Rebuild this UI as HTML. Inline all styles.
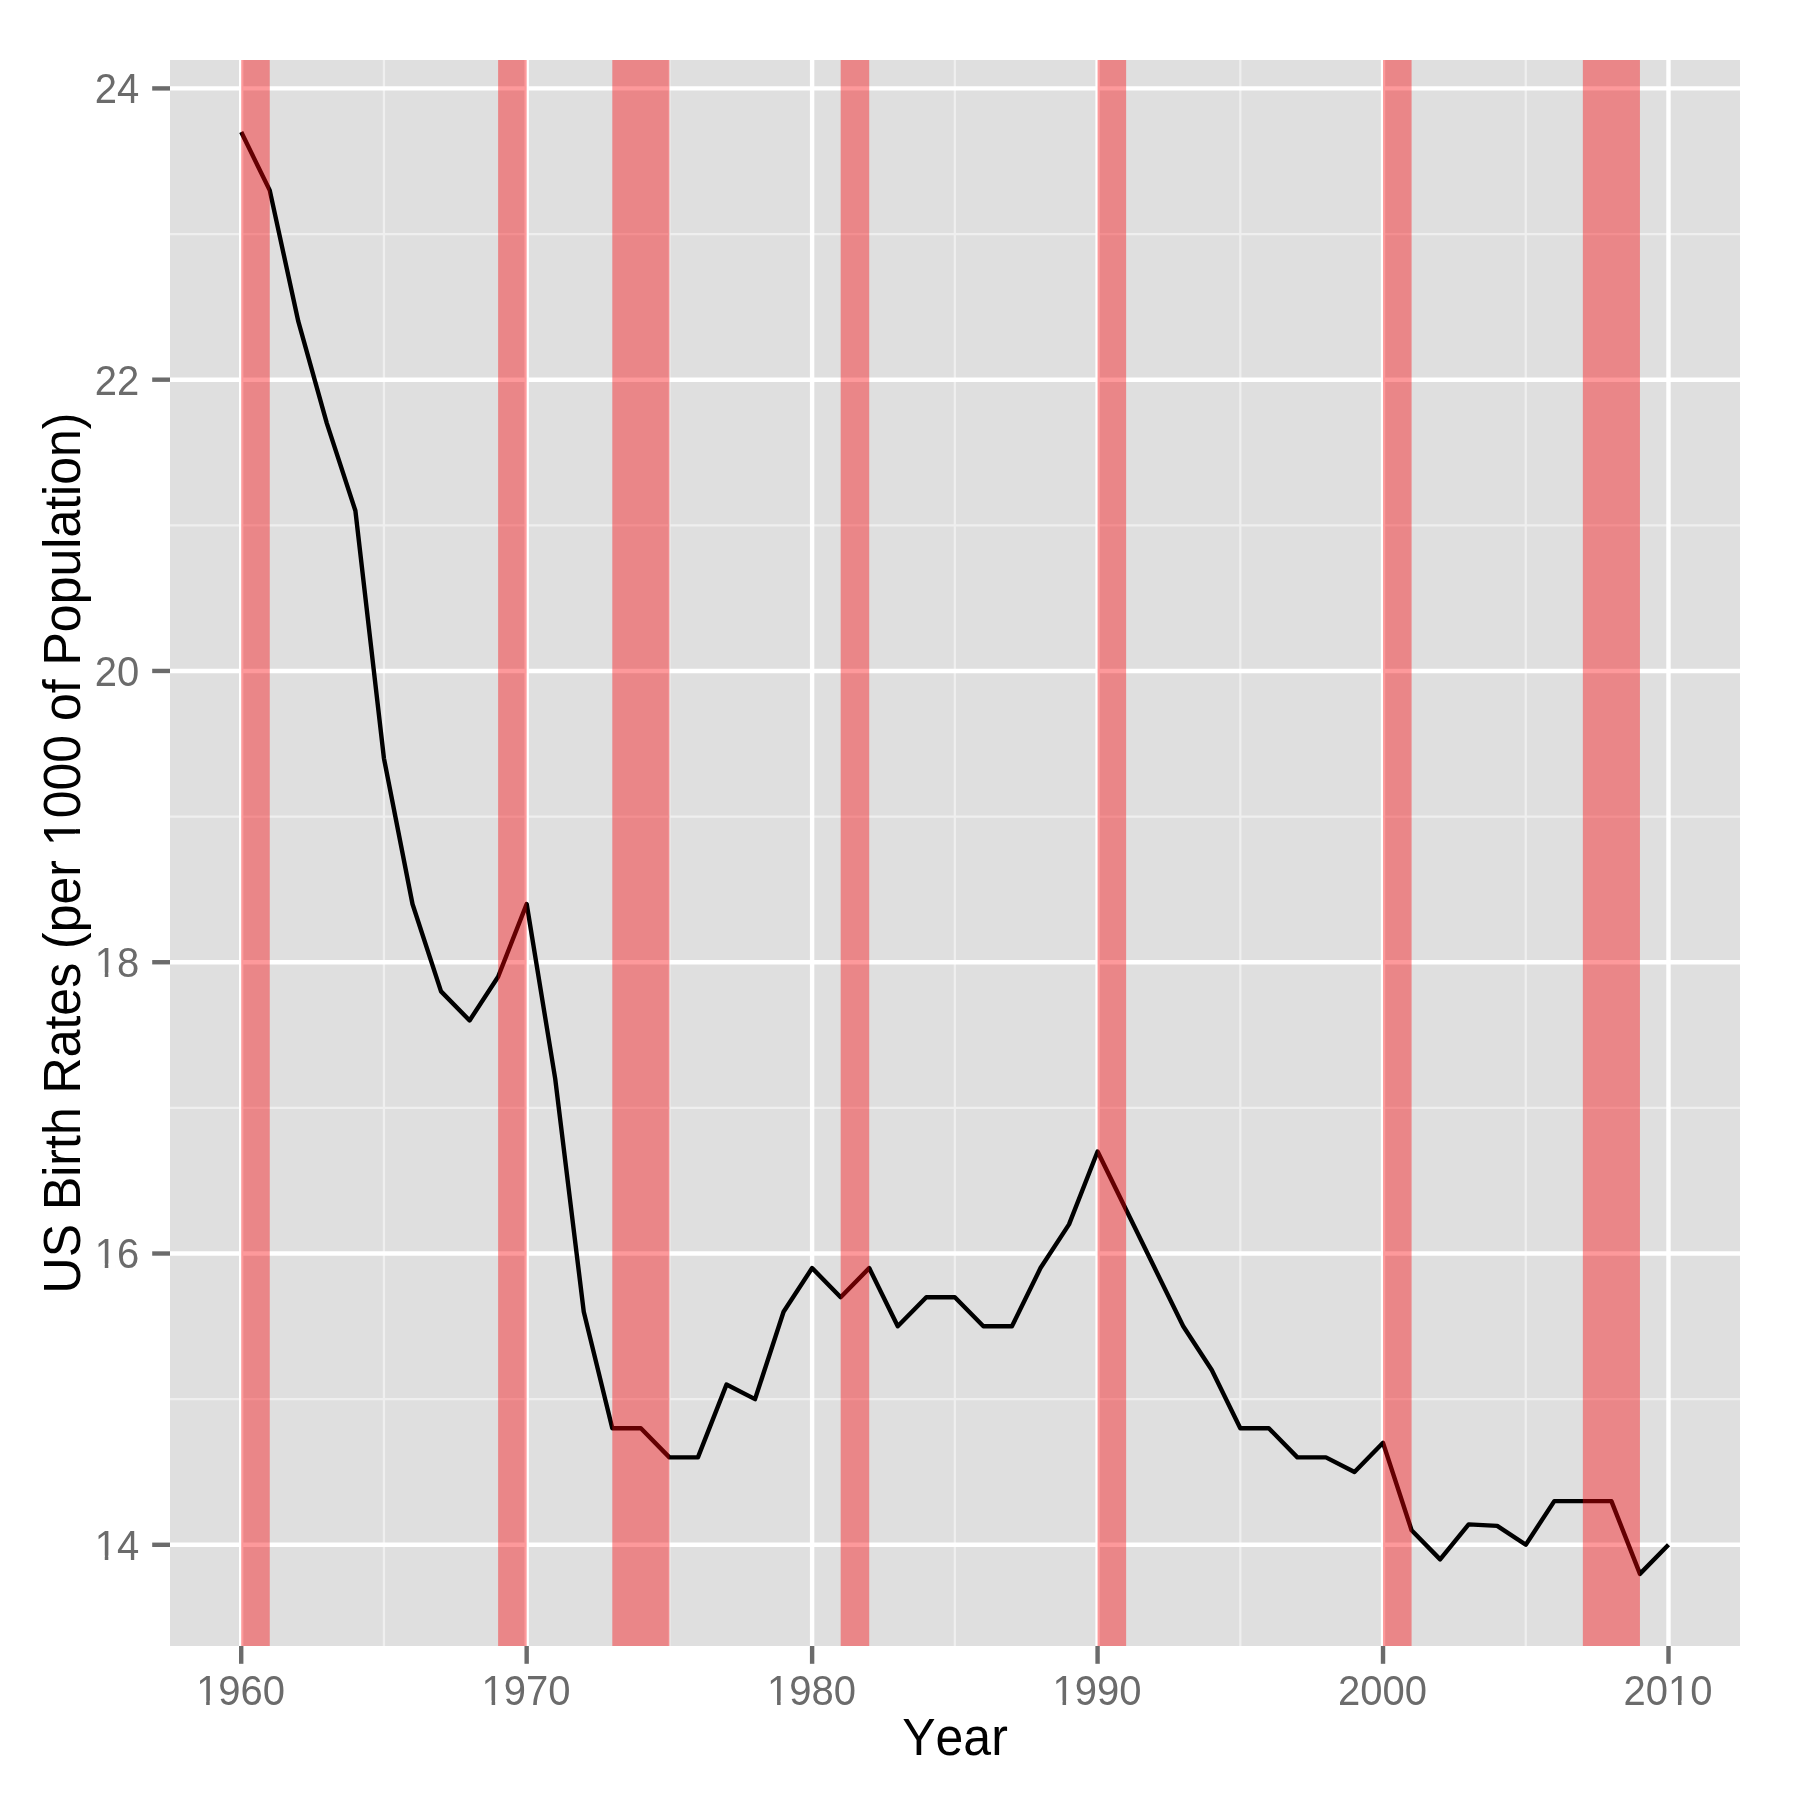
<!DOCTYPE html>
<html><head><meta charset="utf-8"><title>US Birth Rates</title>
<style>html,body{margin:0;padding:0;background:#fff;}body{width:1800px;height:1800px;overflow:hidden;}svg{display:block;}text{font-family:"Liberation Sans",sans-serif;font-kerning:none;font-variant-ligatures:none;}</style></head><body>
<svg width="1800" height="1800" viewBox="0 0 1800 1800">
<rect x="0" y="0" width="1800" height="1800" fill="#ffffff"/>
<rect x="170.0" y="60.0" width="1570.0" height="1586.0" fill="#dfdfdf"/>
<g stroke="#efefef" stroke-width="2.2">
<line x1="170.0" x2="1740.0" y1="1399.14" y2="1399.14"/>
<line x1="170.0" x2="1740.0" y1="1107.87" y2="1107.87"/>
<line x1="170.0" x2="1740.0" y1="816.59" y2="816.59"/>
<line x1="170.0" x2="1740.0" y1="525.31" y2="525.31"/>
<line x1="170.0" x2="1740.0" y1="234.04" y2="234.04"/>
<line y1="60.0" y2="1646.0" x1="383.94" x2="383.94"/>
<line y1="60.0" y2="1646.0" x1="669.40" x2="669.40"/>
<line y1="60.0" y2="1646.0" x1="954.85" x2="954.85"/>
<line y1="60.0" y2="1646.0" x1="1240.30" x2="1240.30"/>
<line y1="60.0" y2="1646.0" x1="1525.76" x2="1525.76"/>
</g>
<g stroke="#ffffff" stroke-width="4.4">
<line x1="170.0" x2="1740.0" y1="1544.78" y2="1544.78"/>
<line x1="170.0" x2="1740.0" y1="1253.51" y2="1253.51"/>
<line x1="170.0" x2="1740.0" y1="962.23" y2="962.23"/>
<line x1="170.0" x2="1740.0" y1="670.95" y2="670.95"/>
<line x1="170.0" x2="1740.0" y1="379.68" y2="379.68"/>
<line x1="170.0" x2="1740.0" y1="88.40" y2="88.40"/>
<line y1="60.0" y2="1646.0" x1="241.21" x2="241.21"/>
<line y1="60.0" y2="1646.0" x1="526.67" x2="526.67"/>
<line y1="60.0" y2="1646.0" x1="812.12" x2="812.12"/>
<line y1="60.0" y2="1646.0" x1="1097.58" x2="1097.58"/>
<line y1="60.0" y2="1646.0" x1="1383.03" x2="1383.03"/>
<line y1="60.0" y2="1646.0" x1="1668.49" x2="1668.49"/>
</g>
<polyline points="241.21,132.09 269.76,190.35 298.30,321.42 326.85,423.37 355.40,510.75 383.94,758.34 412.49,903.97 441.03,991.36 469.58,1020.48 498.12,976.79 526.67,903.97 555.21,1078.74 583.76,1311.76 612.30,1428.27 640.85,1428.27 669.40,1457.40 697.94,1457.40 726.49,1384.58 755.03,1399.14 783.58,1311.76 812.12,1268.07 840.67,1297.20 869.21,1268.07 897.76,1326.32 926.30,1297.20 954.85,1297.20 983.40,1326.32 1011.94,1326.32 1040.49,1268.07 1069.03,1224.38 1097.58,1151.56 1126.12,1209.81 1154.67,1268.07 1183.21,1326.32 1211.76,1370.02 1240.30,1428.27 1268.85,1428.27 1297.40,1457.40 1325.94,1457.40 1354.49,1471.96 1383.03,1442.83 1411.58,1530.22 1440.12,1559.35 1468.67,1524.39 1497.21,1525.85 1525.76,1544.78 1554.30,1501.09 1582.85,1501.09 1611.40,1501.09 1639.94,1573.91 1668.49,1544.78" fill="none" stroke="#000000" stroke-width="4.4" stroke-linejoin="round" stroke-linecap="butt"/>
<g fill="#fb0004" fill-opacity="0.4">
<rect x="241.21" y="60.0" width="28.55" height="1586.0"/>
<rect x="498.12" y="60.0" width="28.55" height="1586.0"/>
<rect x="612.30" y="60.0" width="57.09" height="1586.0"/>
<rect x="840.67" y="60.0" width="28.55" height="1586.0"/>
<rect x="1097.58" y="60.0" width="28.55" height="1586.0"/>
<rect x="1383.03" y="60.0" width="28.55" height="1586.0"/>
<rect x="1582.85" y="60.0" width="57.09" height="1586.0"/>
</g>
<g stroke="#6b6b6b" stroke-width="4.4">
<line x1="152.2" x2="170.0" y1="1544.78" y2="1544.78"/>
<line x1="152.2" x2="170.0" y1="1253.51" y2="1253.51"/>
<line x1="152.2" x2="170.0" y1="962.23" y2="962.23"/>
<line x1="152.2" x2="170.0" y1="670.95" y2="670.95"/>
<line x1="152.2" x2="170.0" y1="379.68" y2="379.68"/>
<line x1="152.2" x2="170.0" y1="88.40" y2="88.40"/>
<line y1="1646.0" y2="1663.8" x1="241.21" x2="241.21"/>
<line y1="1646.0" y2="1663.8" x1="526.67" x2="526.67"/>
<line y1="1646.0" y2="1663.8" x1="812.12" x2="812.12"/>
<line y1="1646.0" y2="1663.8" x1="1097.58" x2="1097.58"/>
<line y1="1646.0" y2="1663.8" x1="1383.03" x2="1383.03"/>
<line y1="1646.0" y2="1663.8" x1="1668.49" x2="1668.49"/>
</g>
<g opacity="0.999">
<g fill="#6b6b6b" font-size="40px">
<text transform="translate(139.2,1560.0) scale(1,1.04)" text-anchor="end">14</text>
<text transform="translate(139.2,1268.0) scale(1,1.04)" text-anchor="end">16</text>
<text transform="translate(139.2,977.0) scale(1,1.04)" text-anchor="end">18</text>
<text transform="translate(139.2,686.0) scale(1,1.04)" text-anchor="end">20</text>
<text transform="translate(139.2,395.0) scale(1,1.04)" text-anchor="end">22</text>
<text transform="translate(139.2,103.0) scale(1,1.04)" text-anchor="end">24</text>
<text transform="translate(240.61,1705.0) scale(1,1.04)" text-anchor="middle">1960</text>
<text transform="translate(526.07,1705.0) scale(1,1.04)" text-anchor="middle">1970</text>
<text transform="translate(811.52,1705.0) scale(1,1.04)" text-anchor="middle">1980</text>
<text transform="translate(1096.98,1705.0) scale(1,1.04)" text-anchor="middle">1990</text>
<text transform="translate(1382.43,1705.0) scale(1,1.04)" text-anchor="middle">2000</text>
<text transform="translate(1667.89,1705.0) scale(1,1.04)" text-anchor="middle">2010</text>
</g>
<g fill="#000000" font-size="50px">
<text transform="translate(955.0,1755.0) scale(1,1.04)" text-anchor="middle">Year</text>
<text transform="translate(80.0,853.0) rotate(-90) scale(1,1.04)" text-anchor="middle">US Birth Rates (per 1000 of Population)</text>
</g>
<g fill="#ffffff">
<g transform="translate(139.2,1560.0) scale(1,1.04)"><rect x="-42.25" y="-4.24" width="7.81" height="5.20"/><rect x="-30.90" y="-4.24" width="7.50" height="5.20"/></g>
<g transform="translate(139.2,1268.0) scale(1,1.04)"><rect x="-42.25" y="-4.24" width="7.81" height="5.20"/><rect x="-30.90" y="-4.24" width="7.50" height="5.20"/></g>
<g transform="translate(139.2,977.0) scale(1,1.04)"><rect x="-42.25" y="-4.24" width="7.81" height="5.20"/><rect x="-30.90" y="-4.24" width="7.50" height="5.20"/></g>
<g transform="translate(240.61,1705.0) scale(1,1.04)"><rect x="-42.25" y="-4.24" width="7.81" height="5.20"/><rect x="-30.90" y="-4.24" width="7.50" height="5.20"/></g>
<g transform="translate(526.07,1705.0) scale(1,1.04)"><rect x="-42.25" y="-4.24" width="7.81" height="5.20"/><rect x="-30.90" y="-4.24" width="7.50" height="5.20"/></g>
<g transform="translate(811.52,1705.0) scale(1,1.04)"><rect x="-42.25" y="-4.24" width="7.81" height="5.20"/><rect x="-30.90" y="-4.24" width="7.50" height="5.20"/></g>
<g transform="translate(1096.98,1705.0) scale(1,1.04)"><rect x="-42.25" y="-4.24" width="7.81" height="5.20"/><rect x="-30.90" y="-4.24" width="7.50" height="5.20"/></g>
<g transform="translate(1667.89,1705.0) scale(1,1.04)"><rect x="2.25" y="-4.24" width="7.81" height="5.20"/><rect x="13.59" y="-4.24" width="7.50" height="5.20"/></g>
<g transform="translate(80.0,853.0) rotate(-90) scale(1,1.04)"><rect x="9.86" y="-4.99" width="9.56" height="5.95"/><rect x="23.84" y="-4.99" width="9.17" height="5.95"/></g>
</g>
</g>
</svg></body></html>
